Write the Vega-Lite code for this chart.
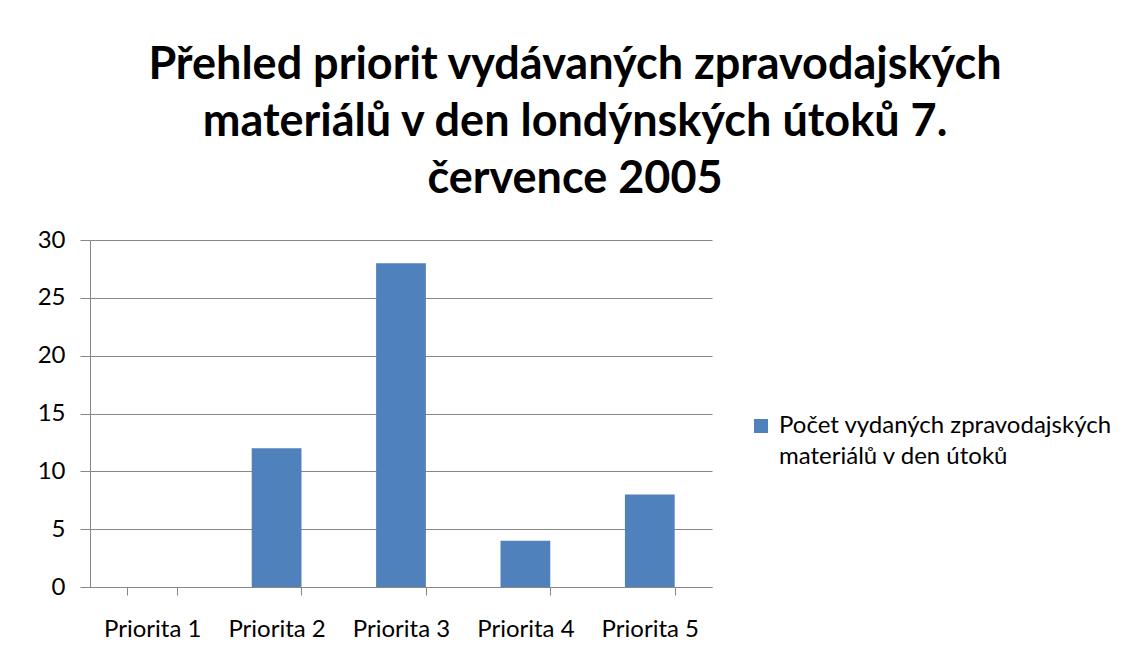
{
  "$schema": "https://vega.github.io/schema/vega-lite/v6.json",
  "autosize": {"type": "none"},
  "width": 622,
  "height": 347,
  "padding": {"left": 90, "top": 240, "right": 418, "bottom": 78},
  "background": "white",
  "title": {
    "text": ["Přehled priorit vydávaných zpravodajských", "materiálů v den londýnských útoků 7.", "července 2005"],
    "font": "Lato",
    "fontSize": 45,
    "fontWeight": "bold",
    "color": "#000000",
    "lineHeight": 57,
    "anchor": "middle",
    "frame": "group",
    "dx": 174,
    "baseline": "alphabetic",
    "offset": -10
  },
  "data": {
    "values": [
      {"kategorie": "Priorita 1", "pocet": 0, "serie": "Počet vydaných zpravodajských materiálů v den útoků"},
      {"kategorie": "Priorita  2", "pocet": 12, "serie": "Počet vydaných zpravodajských materiálů v den útoků"},
      {"kategorie": "Priorita  3", "pocet": 28, "serie": "Počet vydaných zpravodajských materiálů v den útoků"},
      {"kategorie": "Priorita 4", "pocet": 4, "serie": "Počet vydaných zpravodajských materiálů v den útoků"},
      {"kategorie": "Priorita 5", "pocet": 8, "serie": "Počet vydaných zpravodajských materiálů v den útoků"}
    ]
  },
  "mark": {"type": "bar"},
  "encoding": {
    "x": {
      "field": "kategorie",
      "type": "nominal",
      "sort": null,
      "scale": {"paddingInner": 0.6, "paddingOuter": 0.3},
      "axis": {
        "title": null,
        "labelAngle": 0,
        "labelFont": "Lato",
        "labelFontSize": 24,
        "labelColor": "#000000",
        "labelPadding": 22,
        "tickBand": "extent",
        "tickSize": 8,
        "tickColor": "#878787",
        "domainColor": "#878787",
        "grid": false
      }
    },
    "y": {
      "field": "pocet",
      "type": "quantitative",
      "scale": {"domain": [0, 30], "nice": false},
      "axis": {
        "title": null,
        "values": [0, 5, 10, 15, 20, 25, 30],
        "labelFont": "Lato",
        "labelFontSize": 24,
        "labelColor": "#000000",
        "labelPadding": 15,
        "tickSize": 10,
        "tickColor": "#878787",
        "domainColor": "#878787",
        "grid": true,
        "gridColor": "#878787",
        "gridOpacity": 1
      }
    },
    "color": {
      "field": "serie",
      "type": "nominal",
      "scale": {"range": ["#4F81BD"]},
      "legend": {
        "title": null,
        "orient": "none",
        "legendX": 659,
        "legendY": 174,
        "symbolType": "square",
        "symbolSize": 196,
        "symbolStrokeWidth": 0,
        "symbolOpacity": 1,
        "labelFont": "Lato",
        "labelFontSize": 24,
        "labelColor": "#000000",
        "labelLimit": 400,
        "labelOffset": 6,
        "labelExpr": "['Počet vydaných zpravodajských', 'materiálů v den útoků']"
      }
    }
  },
  "config": {
    "view": {"stroke": null},
    "axis": {"domainWidth": 1, "tickWidth": 1, "gridWidth": 1},
    "style": {"guide-label": {"lineHeight": 31}}
  }
}
